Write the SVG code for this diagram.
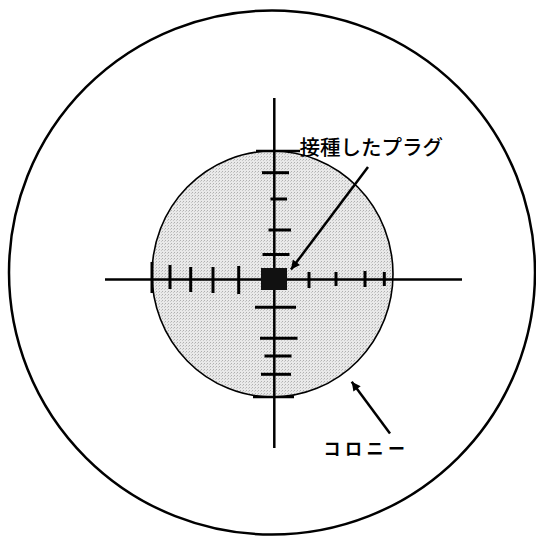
<svg xmlns="http://www.w3.org/2000/svg" width="536" height="541" viewBox="0 0 536 541">
  <style>
    .ln { stroke: #000; fill: none; }
    .axis { stroke: #000; stroke-width: 2.5; fill: none; }
    .tick { stroke: #000; stroke-width: 3; fill: none; }
    .lbl { font-family: "Noto Sans CJK JP", "Noto Sans", sans-serif; fill: #000; }
  </style>
  <defs>
    <pattern id="stip" width="3" height="3" patternUnits="userSpaceOnUse">
      <rect width="3" height="3" fill="#e9e9e9"/>
      <rect x="0" y="0" width="1" height="1" fill="#b0b0b0"/>
      <rect x="2" y="1" width="1" height="1" fill="#c8c8c8"/>
    </pattern>
    <marker id="ah" viewBox="0 0 10 10" refX="10" refY="5" markerWidth="16" markerHeight="9" markerUnits="userSpaceOnUse" orient="auto">
      <path d="M0,0 L10,5 L0,10 Z" fill="#000"/>
    </marker>
  </defs>

  <g id="dish">
    <ellipse cx="272" cy="272.5" rx="263" ry="262" class="ln" stroke-width="2.5"/>
  </g>

  <g id="colony">
    <ellipse cx="272.5" cy="274" rx="120.5" ry="123" fill="url(#stip)" stroke="#000" stroke-width="1.6"/>
    <line x1="256" y1="151" x2="300" y2="151" class="ln" stroke-width="2.5"/>
    <line x1="253" y1="397" x2="294" y2="397" class="ln" stroke-width="2.5"/>
    <line x1="152" y1="262" x2="152" y2="293" class="ln" stroke-width="3"/>
  </g>

  <g id="scale">
    <line x1="105" y1="279.5" x2="462" y2="279.5" class="axis"/>
    <line x1="274.3" y1="98" x2="274.3" y2="448" class="axis"/>
    <line x1="170" y1="265" x2="170" y2="289" class="tick"/>
    <line x1="190.7" y1="267" x2="190.7" y2="292" class="tick"/>
    <line x1="213" y1="267" x2="213" y2="293" class="tick"/>
    <line x1="238.7" y1="266" x2="238.7" y2="294" class="tick"/>
    <line x1="309" y1="272" x2="309" y2="288" class="tick"/>
    <line x1="336" y1="272" x2="336" y2="286" class="tick"/>
    <line x1="365" y1="271" x2="365" y2="287" class="tick"/>
    <line x1="384.3" y1="272" x2="384.3" y2="286" class="tick"/>
    <line x1="262" y1="172.7" x2="289" y2="172.7" class="tick"/>
    <line x1="270.5" y1="199" x2="287" y2="199" class="tick"/>
    <line x1="268.5" y1="230" x2="291" y2="230" class="tick"/>
    <line x1="262.5" y1="254.5" x2="289.5" y2="254.5" class="tick"/>
    <line x1="255" y1="307.3" x2="296" y2="307.3" class="tick"/>
    <line x1="260" y1="338.3" x2="297.5" y2="338.3" class="tick"/>
    <line x1="264.5" y1="356" x2="291.5" y2="356" class="tick"/>
    <line x1="261" y1="374.3" x2="291" y2="374.3" class="tick"/>
  </g>

  <g id="plug">
    <rect x="261" y="268" width="26" height="22" fill="#111"/>
  </g>

  <g id="labels">
    <text x="299.5" y="154.5" class="lbl" font-size="20.5" font-weight="500" letter-spacing="0">接種したプラグ</text>
    <text x="323.5" y="454.5" class="lbl" font-size="17" font-weight="bold" letter-spacing="4.5">コロニー</text>
  </g>

  <g id="connectors">
    <line x1="368" y1="167" x2="291" y2="269.5" class="ln" stroke-width="2.5" marker-end="url(#ah)"/>
    <line x1="390" y1="433.5" x2="351.7" y2="381.7" class="ln" stroke-width="2.5" marker-end="url(#ah)"/>
  </g>
</svg>
